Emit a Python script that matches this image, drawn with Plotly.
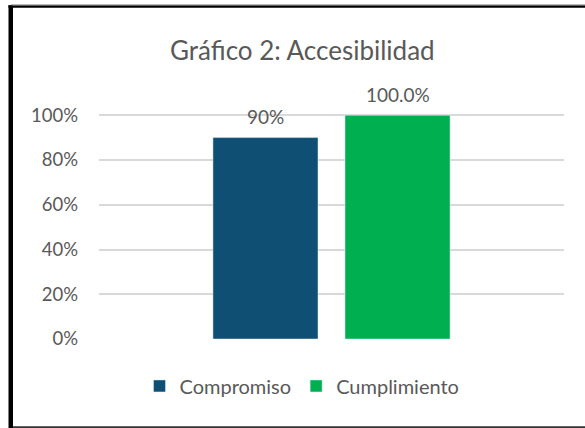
import plotly.graph_objects as go

categories = ["Accesibilidad"]
series_names = ["Compromiso", "Cumplimiento"]
compromiso = [0.90]
cumplimiento = [1.00]
label_compromiso = ["90%"]
label_cumplimiento = ["100.0%"]
colors = ["#0E4F73", "#00AF50"]
tick_vals = [0, 0.2, 0.4, 0.6, 0.8, 1.0]
tick_text = ["0%", "20%", "40%", "60%", "80%", "100%"]

W, H = 585, 428
Y_TOP = 1.01
L, R, B = 99, 564, 339
T = B - 224 * Y_TOP

def px(x):
    return (x - L) / (R - L)

def py(y):
    return (B - y) / (B - T)

FONT = "Lato"
TXT = "#595959"

fig = go.Figure()
series = [
    (series_names[0], compromiso, label_compromiso, colors[0], -66),
    (series_names[1], cumplimiento, label_cumplimiento, colors[1], 66),
]
annotations = []
for name, vals, labels, col, shift in series:
    fig.add_trace(go.Bar(x=categories, y=vals, name=name, marker_color=col))
    for c, v, t in zip(categories, vals, labels):
        annotations.append(dict(x=c, y=v, xref="x", yref="y", text=t, showarrow=False,
                                xshift=shift, yshift=21, yanchor="middle", xanchor="center",
                                font=dict(family=FONT, size=19, color=TXT)))

annotations.append(dict(text="Gráfico 2: Accesibilidad", xref="paper", yref="paper",
                        x=px(302), y=py(50), xanchor="center", yanchor="middle",
                        showarrow=False, font=dict(family=FONT, size=26, color=TXT)))

shapes = [
    dict(type="rect", xref="paper", yref="paper", x0=px(8.5), x1=px(13), y0=py(428), y1=py(5),
         fillcolor="black", line=dict(width=0), layer="above"),
    dict(type="rect", xref="paper", yref="paper", x0=px(8.5), x1=px(585), y0=py(7.5), y1=py(5),
         fillcolor="black", line=dict(width=0), layer="above"),
    dict(type="rect", xref="paper", yref="paper", x0=px(11), x1=px(585), y0=py(5), y1=py(4),
         fillcolor="#A6A6A6", line=dict(width=0), layer="above"),
    dict(type="rect", xref="paper", yref="paper", x0=px(13), x1=px(585), y0=py(428), y1=py(426.3),
         fillcolor="#333333", line=dict(width=0), layer="above"),
]

fig.update_layout(
    width=W, height=H,
    margin=dict(l=L, r=W - R, t=T, b=H - B, pad=0),
    paper_bgcolor="white", plot_bgcolor="white",
    barmode="group", bargap=0.432, bargroupgap=0.2045,
    showlegend=True,
    legend=dict(orientation="h", x=px(302), xanchor="center", y=py(386), yanchor="middle",
                font=dict(family=FONT, size=20, color=TXT), itemwidth=30,
                traceorder="normal"),
    xaxis=dict(showticklabels=False, showgrid=False, zeroline=False, showline=False,
               fixedrange=True),
    yaxis=dict(range=[0, Y_TOP], tickvals=tick_vals, ticktext=tick_text,
               showgrid=True, gridcolor="#D9D9D9", gridwidth=1.5, zeroline=False,
               showline=False, ticks="", ticklabelstandoff=20, fixedrange=True,
               tickfont=dict(family=FONT, size=18.5, color=TXT)),
    annotations=annotations,
    shapes=shapes,
)

fig.write_html("out.html", config={"displayModeBar": False},
               post_script="document.body.style.margin='0';document.body.style.padding='0';")
